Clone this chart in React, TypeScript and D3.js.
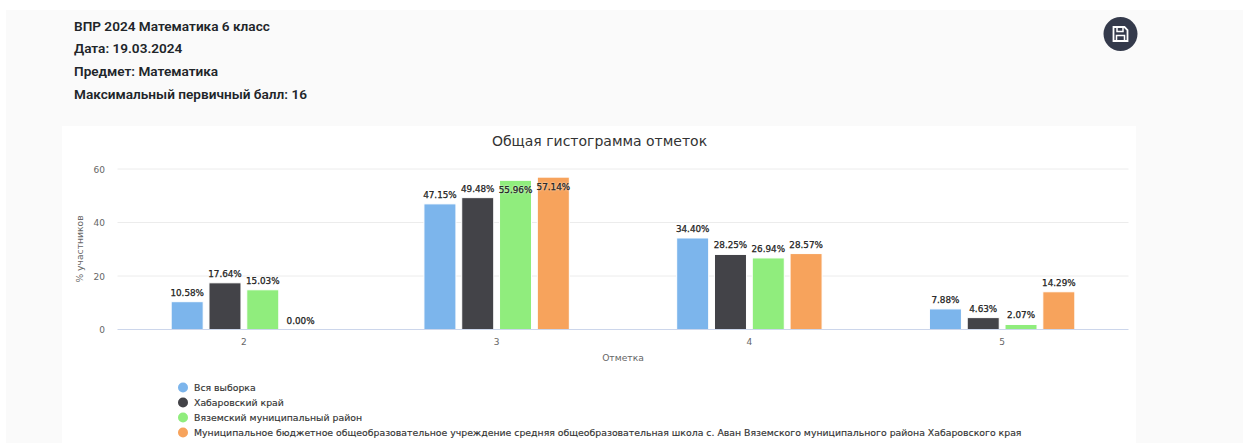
import { useEffect, useRef } from "react";
import * as d3 from "d3";

const marks = ["2", "3", "4", "5"];
const seriesNames = [
  "Вся выборка",
  "Хабаровский край",
  "Вяземский муниципальный район",
  "Муниципальное бюджетное общеобразовательное учреждение средняя общеобразовательная школа с. Аван Вяземского муниципального района Хабаровского края",
];
const seriesColors = ["#7cb5ec", "#434348", "#90ed7d", "#f7a35c"];
const allSample = [10.58, 47.15, 34.4, 7.88];
const khabarovsk = [17.64, 49.48, 28.25, 4.63];
const vyazemsky = [15.03, 55.96, 26.94, 2.07];
const school = [0, 57.14, 28.57, 14.29];
const seriesValues = [allSample, khabarovsk, vyazemsky, school];
const yTicks = [0, 20, 40, 60];
const headerLines = [
  "ВПР 2024 Математика 6 класс",
  "Дата: 19.03.2024",
  "Предмет: Математика",
  "Максимальный первичный балл: 16",
];

const WIDTH = 1243;
const HEIGHT = 443;
const chartFont = "'DejaVu Sans', sans-serif";

export default function App() {
  const ref = useRef<SVGSVGElement | null>(null);

  useEffect(() => {
    const svg = d3.select(ref.current);
    svg.selectAll("*").remove();

    // page background and card
    svg.append("rect").attr("x", 6).attr("y", 10).attr("width", WIDTH - 6).attr("height", HEIGHT - 10).attr("fill", "#fafafa");
    svg.append("rect").attr("x", 62).attr("y", 126).attr("width", 1074).attr("height", HEIGHT - 126).attr("fill", "#ffffff");

    headerLines.forEach((t, i) => {
      svg.append("text")
        .attr("x", 74)
        .attr("y", 30.5 + i * 22.8)
        .attr("font-family", "Roboto, sans-serif")
        .attr("font-size", 13.6)
        .attr("font-weight", 600)
        .attr("fill", "#212529")
        .text(t);
    });

    // save button
    const btn = svg.append("g").attr("transform", "translate(1120.5,34)");
    btn.append("circle").attr("r", 17).attr("fill", "#343a4b");
    btn.append("path")
      .attr("d", "M-7,-7 H4 L7,-4 V7 H-7 Z")
      .attr("fill", "none")
      .attr("stroke", "#ffffff")
      .attr("stroke-width", 1.8);
    btn.append("path").attr("d", "M-3.5,-6.5 V-2.5 H2.5 V-6.5").attr("fill", "none").attr("stroke", "#ffffff").attr("stroke-width", 1.5);
    btn.append("path").attr("d", "M-4,6.5 V1.5 H4 V6.5").attr("fill", "none").attr("stroke", "#ffffff").attr("stroke-width", 1.5);

    const x = d3.scaleBand<string>().domain(marks).range([117.5, 1128.5]);
    const y = d3.scaleLinear().domain([0, 60]).range([329.5, 169]);
    const inner = d3
      .scaleBand<number>()
      .domain(d3.range(seriesNames.length))
      .range([x.bandwidth() * 0.2104, x.bandwidth() * 0.7896])
      .paddingInner(0.127);

    svg.append("text")
      .attr("x", 599.5)
      .attr("y", 146)
      .attr("text-anchor", "middle")
      .attr("font-family", chartFont)
      .attr("font-size", 14)
      .attr("fill", "#333333")
      .text("Общая гистограмма отметок");

    // gridlines and y labels
    yTicks.forEach((v) => {
      if (v !== 0) {
        svg.append("line")
          .attr("x1", 117.5)
          .attr("x2", 1128.5)
          .attr("y1", y(v))
          .attr("y2", y(v))
          .attr("stroke", "#ececec")
          .attr("stroke-width", 1);
      }
      svg.append("text")
        .attr("x", 105)
        .attr("y", y(v) + 3.5)
        .attr("text-anchor", "end")
        .attr("font-family", chartFont)
        .attr("font-size", 9)
        .attr("fill", "#666666")
        .text(String(v));
    });

    svg.append("text")
      .attr("transform", "translate(82.5,249) rotate(-90)")
      .attr("text-anchor", "middle")
      .attr("font-family", chartFont)
      .attr("font-size", 9.2)
      .attr("fill", "#666666")
      .text("% участников");

    marks.forEach((m) => {
      svg.append("text")
        .attr("x", (x(m) ?? 0) + x.bandwidth() / 2)
        .attr("y", 345)
        .attr("text-anchor", "middle")
        .attr("font-family", chartFont)
        .attr("font-size", 9)
        .attr("fill", "#666666")
        .text(m);
    });

    svg.append("text")
      .attr("x", 623)
      .attr("y", 361)
      .attr("text-anchor", "middle")
      .attr("font-family", chartFont)
      .attr("font-size", 9.2)
      .attr("fill", "#666666")
      .text("Отметка");

    // bars, white border eats into the fill
    seriesValues.forEach((vals, s) => {
      vals.forEach((v, i) => {
        const bx = (x(marks[i]) ?? 0) + (inner(s) ?? 0);
        svg.append("rect")
          .attr("x", bx + 0.5)
          .attr("y", y(v) + 0.5)
          .attr("width", inner.bandwidth() - 1)
          .attr("height", Math.max(y(0) - y(v) - 0.5, 0))
          .attr("fill", seriesColors[s])
          .attr("stroke", "#ffffff")
          .attr("stroke-width", 1);
      });
    });

    // axis line goes over the bar borders
    svg.append("line")
      .attr("x1", 117.5)
      .attr("x2", 1128.5)
      .attr("y1", y(0))
      .attr("y2", y(0))
      .attr("stroke", "#ccd6eb")
      .attr("stroke-width", 1);

    // data labels on top of all bars, the two tallest get pushed inside
    seriesValues.forEach((vals, s) => {
      vals.forEach((v, i) => {
        const bx = (x(marks[i]) ?? 0) + (inner(s) ?? 0);
        svg.append("text")
          .attr("x", bx + inner.bandwidth() / 2)
          .attr("y", y(v) - 5.5)
          .attr("dy", v > 55 ? 19 : 0)
          .attr("text-anchor", "middle")
          .attr("font-family", chartFont)
          .attr("font-size", 8.8)
          .attr("fill", "#000000")
          .attr("stroke", "#000000")
          .attr("stroke-width", 0.25)
          .style("text-shadow", "0 0 2px rgba(255,255,255,0.9)")
          .text(`${v.toFixed(2)}%`);
      });
    });

    // legend
    seriesNames.forEach((name, i) => {
      const ly = 387.5 + i * 15;
      svg.append("circle").attr("cx", 183).attr("cy", ly).attr("r", 5).attr("fill", seriesColors[i]);
      svg.append("text")
        .attr("x", 194)
        .attr("y", ly + 3.5)
        .attr("font-family", chartFont)
        .attr("font-size", 9.33)
        .attr("fill", "#333333")
        .attr("stroke", "#333333")
        .attr("stroke-width", 0.15)
        .text(name);
    });
  }, []);

  return (
    <svg
      ref={ref}
      width={WIDTH}
      height={HEIGHT}
      style={{ position: "absolute", left: 0, top: 0, background: "#ffffff" }}
    />
  );
}
